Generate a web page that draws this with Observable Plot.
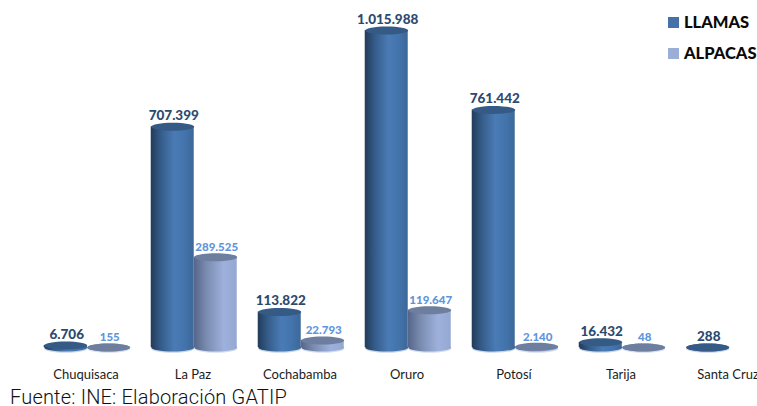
<!DOCTYPE html>
<html><head><meta charset="utf-8">
<script src="https://cdn.jsdelivr.net/npm/d3@7"></script>
<script src="https://cdn.jsdelivr.net/npm/@observablehq/plot@0.6"></script>
<style>
html,body{margin:0;padding:0;background:#fff;width:757px;height:406px;overflow:hidden}
#wrap{position:relative;width:757px;height:406px}
#wrap svg{display:block}
#caption{position:absolute;left:10px;top:388px;font:300 20px/18px Roboto,sans-serif;letter-spacing:.18px;color:#111;white-space:nowrap}
.lg{position:absolute;left:668px;display:flex;align-items:center;font:900 16.5px/20px Lato,sans-serif;color:#0a0a0a}
.lg i{display:inline-block;width:11px;height:11px;margin-right:5px}
</style></head><body>
<div id="wrap"></div>
<script>
const categories = ["Chuquisaca","La Paz","Cochabamba","Oruro","Potosí","Tarija","Santa Cruz"];
const llamas  = [6706, 707399, 113822, 1015988, 761442, 16432, 288];
const alpacas = [155, 289525, 22793, 119647, 2140, 48, null];
const series = ["LLAMAS","ALPACAS"];
const seriesColors = ["#4472a8","#9aaed6"];
const captionText = "Fuente: INE: Elaboración GATIP";

const fmt = d3.formatLocale({decimal:",",thousands:".",grouping:[3],currency:["",""]}).format(",");
const rowsL = categories.map((c,i)=>({cat:c,serie:"LLAMAS",value:llamas[i]}));
const rowsA = categories.map((c,i)=>({cat:c,serie:"ALPACAS",value:alpacas[i]})).filter(d=>d.value!=null);

const ellipse = {draw(ctx,size){
  const rx=Math.sqrt(size/Math.PI), ry=4, k=0.5523;
  ctx.moveTo(-rx,0);
  ctx.bezierCurveTo(-rx,-ry*k,-rx*k,-ry,0,-ry);
  ctx.bezierCurveTo(rx*k,-ry,rx,-ry*k,rx,0);
  ctx.bezierCurveTo(rx,ry*k,rx*k,ry,0,ry);
  ctx.bezierCurveTo(-rx*k,ry,-rx,ry*k,-rx,0);
  ctx.closePath();
}};
const R = 21.5;
const cyl = (rows,grad,top,shadow) => [
  Plot.dot(rows,{x:"serie",fx:"cat",y:()=>0,r:R,symbol:ellipse,fill:shadow,stroke:"none",dy:1.2}),
  Plot.dot(rows,{x:"serie",fx:"cat",y:()=>0,r:R,symbol:ellipse,fill:grad,stroke:"none"}),
  Plot.barY(rows,{x:"serie",fx:"cat",y:"value",fill:grad,inset:0}),
  Plot.dot(rows,{x:"serie",fx:"cat",y:"value",r:R,symbol:ellipse,fill:top,stroke:"none"})
];

const plot = Plot.plot({
  width:757, height:386,
  marginLeft:32.27, marginRight:-26.6, marginTop:30, marginBottom:39,
  style:{fontFamily:"Lato, sans-serif",background:"#fff"},
  fx:{domain:categories,paddingInner:.2,paddingOuter:.1,label:null,axis:null},
  x:{domain:series,padding:0,axis:null},
  y:{domain:[0,Math.max(...llamas)],axis:null,nice:false},
  marks:[
    ...cyl(rowsL,"url(#gl)","#355a85","#c6d6ea"),
    ...cyl(rowsA,"url(#ga)","#6e7e9f","#d5def0"),
    Plot.text(rowsL,{x:"serie",fx:"cat",y:"value",text:d=>fmt(d.value),dy:-11,dx:1,fill:"#2c4a70",fontSize:13.5,fontWeight:900}),
    Plot.text(rowsA,{x:"serie",fx:"cat",y:"value",text:d=>fmt(d.value),dy:-10,dx:1,fill:"#5f95dc",fontSize:11.5,fontWeight:900}),
    Plot.axisFx({anchor:"bottom",tickSize:0,tickPadding:27,dx:-1.5,label:null,fontSize:13,fill:"#1c1c1c",lineAnchor:"middle"})
  ]
});
const ns="http://www.w3.org/2000/svg";
const defs=document.createElementNS(ns,"defs");
const grad=(id,stops)=>{const g=document.createElementNS(ns,"linearGradient");g.setAttribute("id",id);
  stops.forEach(([o,c])=>{const s=document.createElementNS(ns,"stop");s.setAttribute("offset",o);s.setAttribute("stop-color",c);g.appendChild(s);});defs.appendChild(g);};
grad("gl",[[0,"#223b59"],[.25,"#365e8d"],[.55,"#4a7bb5"],[.8,"#4373ab"],[1,"#3c6899"]]);
grad("ga",[[0,"#55658a"],[.3,"#7a8cb0"],[.7,"#9db1dc"],[1,"#94a8d2"]]);
plot.insertBefore(defs,plot.firstChild);
const wrap=document.getElementById("wrap");
wrap.appendChild(plot);
const cap=document.createElement("div");cap.id="caption";cap.textContent=captionText;wrap.appendChild(cap);
series.forEach((s,i)=>{const d=document.createElement("div");d.className="lg";d.style.top=(12+i*31)+"px";
  const sw=document.createElement("i");sw.style.background=seriesColors[i];d.appendChild(sw);d.appendChild(document.createTextNode(s));wrap.appendChild(d);});
</script>
</body></html>
